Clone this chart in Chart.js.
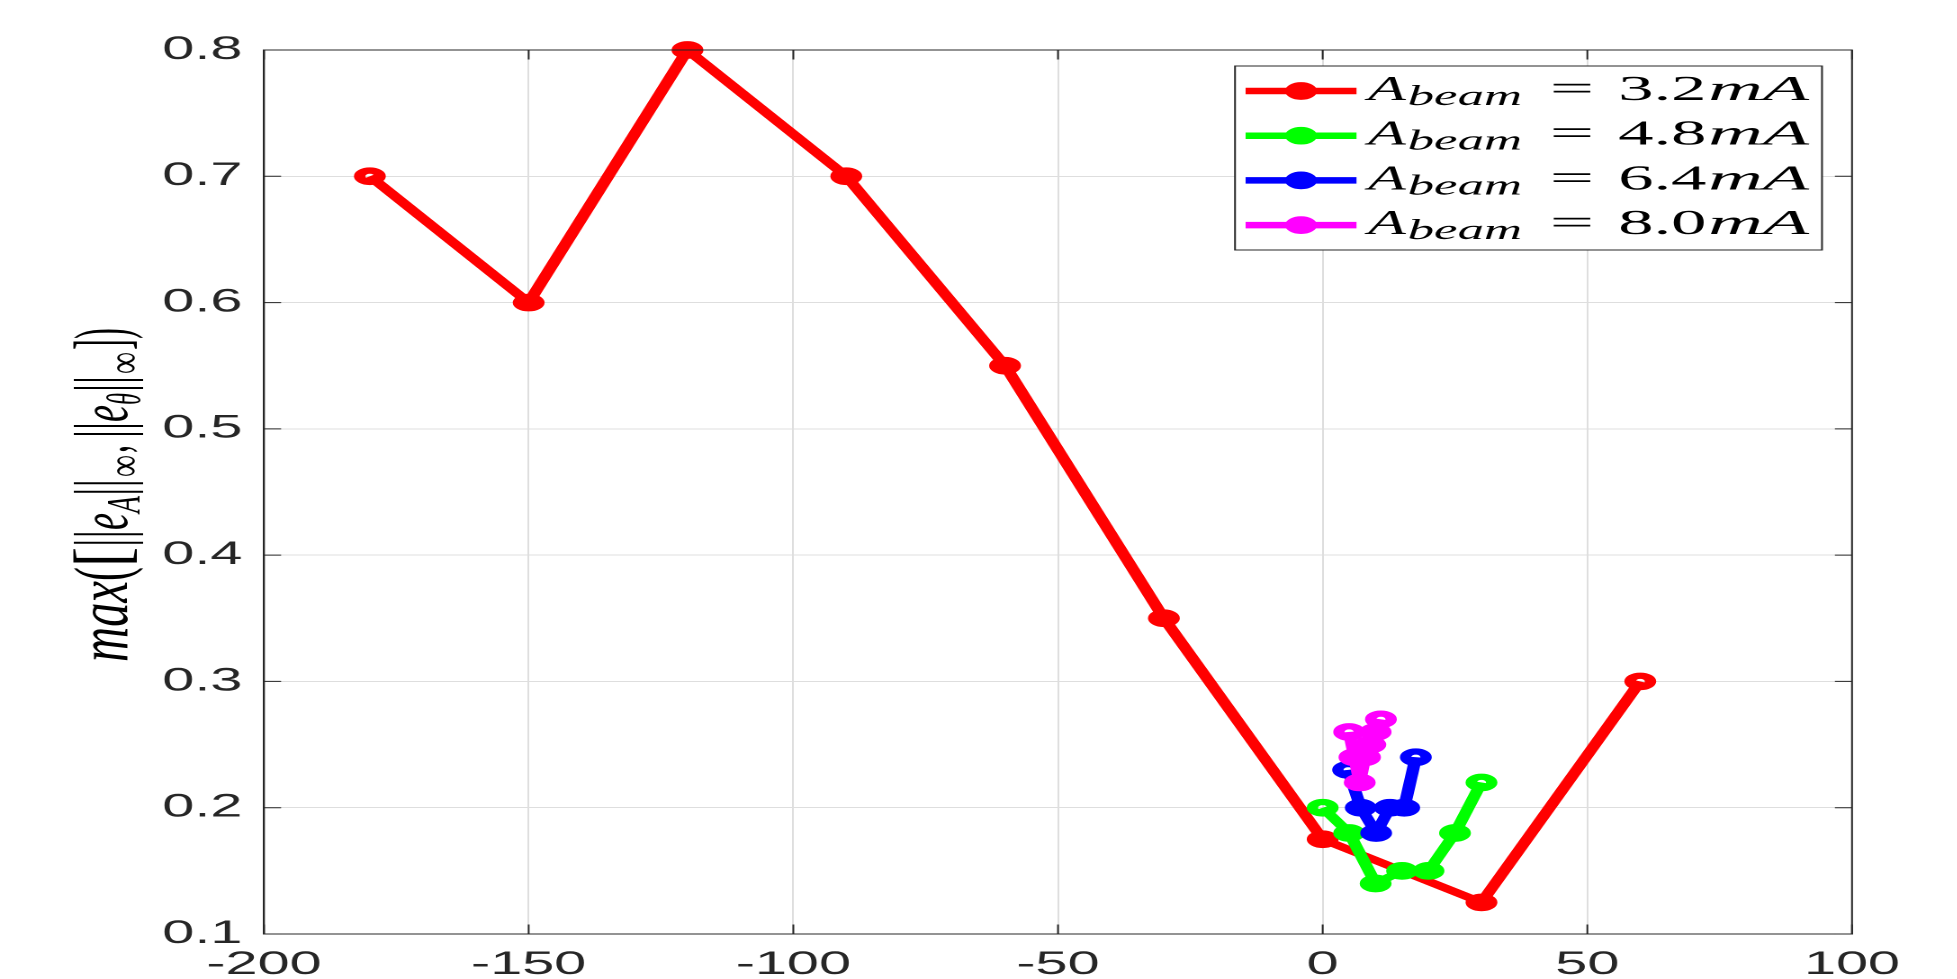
<!DOCTYPE html>
<html><head><meta charset="utf-8">
<script src="https://cdn.jsdelivr.net/npm/chart.js@4/dist/chart.umd.min.js"></script>
<style>
html,body{margin:0;padding:0;background:#fff;overflow:hidden;width:1957px;height:979px;}
#wrap{width:1088px;height:979px;transform:scaleX(1.8);transform-origin:0 0;}
canvas{display:block;}
</style></head><body>
<div id="wrap"><canvas id="c" width="1088" height="979"></canvas></div>
<script>
// ---- data ----
const xTicks = [-200, -150, -100, -50, 0, 50, 100];
const xTickLabels = ['-200', '-150', '-100', '-50', '0', '50', '100'];
const yTicks = [0.1, 0.2, 0.3, 0.4, 0.5, 0.6, 0.7, 0.8];
const yTickLabels = ['0.1', '0.2', '0.3', '0.4', '0.5', '0.6', '0.7', '0.8'];

const seriesNames = ['3.2mA', '4.8mA', '6.4mA', '8.0mA'];
const seriesValueText = ['3.2', '4.8', '6.4', '8.0'];

const redX = [-180, -150, -120, -90, -60, -30, 0, 30, 60];
const redY = [0.7, 0.6, 0.8, 0.7, 0.55, 0.35, 0.175, 0.125, 0.3];
const greenX = [0, 5, 10, 15, 20, 25, 30];
const greenY = [0.2, 0.18, 0.14, 0.15, 0.15, 0.18, 0.22];
const blueX = [4.8, 7.2, 10.1, 12.7, 15.4, 17.6];
const blueY = [0.23, 0.2, 0.18, 0.2, 0.2, 0.24];
const magentaX = [5, 6, 7, 8, 9, 10, 11];
const magentaY = [0.26, 0.24, 0.22, 0.24, 0.25, 0.26, 0.27];

// ---- styling / layout ----
const SX = 1.8;                 // horizontal stretch of the whole figure
const CW = 1088, CH = 979;
const AREA = { left: 264 / SX, right: 1852 / SX, top: 50, bottom: 934 };
const COLORS = ['#ff0000', '#00ff00', '#0000ff', '#ff00ff'];
const AXIS = '#262626';
const GRID = '#dedede';
const LINE_W = 7, LEG_LINE_W = 6.5, PT_R = 5.7, PT_BW = 6.3;

function pts(xs, ys) { return xs.map((x, i) => ({ x: x, y: ys[i] })); }
const seriesData = [pts(redX, redY), pts(greenX, greenY), pts(blueX, blueY), pts(magentaX, magentaY)];

const datasets = seriesData.map((d, i) => ({
  label: seriesNames[i],
  data: d,
  borderColor: COLORS[i],
  backgroundColor: COLORS[i],
  borderWidth: LINE_W,
  borderJoinStyle: 'round',
  tension: 0,
  pointStyle: 'circle',
  pointRadius: PT_R,
  pointBorderWidth: PT_BW,
  pointBackgroundColor: 'rgba(0,0,0,0)',
  pointBorderColor: COLORS[i],
  order: 4 - i,
  clip: false
}));

function fitText(ctx, text, font, x0, x1, baseline) {
  ctx.save();
  ctx.font = font;
  const w = ctx.measureText(text).width;
  ctx.translate(x0, baseline);
  ctx.scale((x1 - x0) / w, 1);
  ctx.textBaseline = 'alphabetic';
  ctx.textAlign = 'left';
  ctx.fillText(text, 0, 0);
  ctx.restore();
}

const SERIF = '"Liberation Serif", "DejaVu Serif", serif';
// y-axis title pieces: text, font, baseline offset, [bottom y, top y] on the page
const titlePieces = [
  ['max', 'italic 40px ' + SERIF, 0, 662, 581],
  ['(', '42px ' + SERIF, 0, 581, 567],
  ['[', '42px ' + SERIF, 0, 567, 547],
  ['||', '42px ' + SERIF, 0, 547, 530],
  ['e', 'italic 38px ' + SERIF, 0, 530, 513],
  ['A', 'italic 26px ' + SERIF, 7, 513, 496],
  ['||', '42px ' + SERIF, 0, 496, 479],
  ['\u221E', '26px ' + SERIF, 7, 477, 455],
  [',', '38px ' + SERIF, 0, 453, 445],
  ['||', '42px ' + SERIF, 0, 438, 422],
  ['e', 'italic 38px ' + SERIF, 0, 422, 405],
  ['\u03B8', 'italic 26px ' + SERIF, 7, 405, 393],
  ['||', '42px ' + SERIF, 0, 392, 376],
  ['\u221E', '26px ' + SERIF, 7, 374, 352],
  [']', '42px ' + SERIF, 0, 350, 339],
  [')', '42px ' + SERIF, 0, 339, 328]
];

const decor = {
  id: 'decor',
  afterDraw(chart) {
    const ctx = chart.ctx;
    const xs = chart.scales.x, ys = chart.scales.y;
    const L = chart.chartArea.left, R = chart.chartArea.right, T = chart.chartArea.top, B = chart.chartArea.bottom;
    ctx.save();
    // box
    ctx.strokeStyle = AXIS; ctx.lineWidth = 1;
    ctx.beginPath();
    ctx.moveTo(L, T); ctx.lineTo(R, T); ctx.lineTo(R, B); ctx.lineTo(L, B); ctx.closePath();
    ctx.stroke();
    // inward ticks
    const tl = 9.5;
    ctx.beginPath();
    xTicks.forEach(v => {
      const px = xs.getPixelForValue(v);
      ctx.moveTo(px, B); ctx.lineTo(px, B - tl);
      ctx.moveTo(px, T); ctx.lineTo(px, T + tl);
    });
    yTicks.forEach(v => {
      const py = ys.getPixelForValue(v);
      ctx.moveTo(L, py); ctx.lineTo(L + tl, py);
      ctx.moveTo(R, py); ctx.lineTo(R - tl, py);
    });
    ctx.stroke();

    // legend
    const bx0 = 1235 / SX, bx1 = 1822 / SX, by0 = 66, by1 = 250;
    ctx.fillStyle = '#fff';
    ctx.fillRect(bx0, by0, bx1 - bx0, by1 - by0);
    ctx.strokeStyle = AXIS; ctx.lineWidth = 1;
    ctx.strokeRect(bx0, by0, bx1 - bx0, by1 - by0);
    for (let i = 0; i < 4; i++) {
      const ry = by0 + 25 + i * 44.7;
      ctx.strokeStyle = COLORS[i];
      ctx.lineWidth = LEG_LINE_W;
      ctx.beginPath(); ctx.moveTo(692, ry); ctx.lineTo(753.6, ry); ctx.stroke();
      ctx.lineWidth = PT_BW;
      ctx.beginPath(); ctx.arc(722.8, ry, PT_R, 0, Math.PI * 2); ctx.stroke();
      ctx.fillStyle = '#000';
      fitText(ctx, 'A', 'italic 35px ' + SERIF, 760, 781, ry + 9);
      fitText(ctx, 'beam', 'italic 28px ' + SERIF, 782, 845.6, ry + 14);
      fitText(ctx, '=', '35px ' + SERIF, 861, 885.6, ry + 9);
      fitText(ctx, seriesValueText[i], '35px ' + SERIF, 899, 948, ry + 9);
      fitText(ctx, 'mA', 'italic 35px ' + SERIF, 949, 1005, ry + 9);
    }

    // y-axis title (rotated), with subscripts
    ctx.translate(70.4, 495);
    ctx.rotate(-Math.PI / 2);
    ctx.fillStyle = '#000';
    titlePieces.forEach(p => {
      fitText(ctx, p[0], p[1], 495 - p[3], 495 - p[4], p[2]);
    });
    ctx.restore();
  }
};

const tickFont = { family: '"Liberation Sans", Arial, sans-serif', size: 32 };

new Chart(document.getElementById('c'), {
  type: 'line',
  data: { datasets: datasets },
  options: {
    responsive: false,
    animation: false,
    devicePixelRatio: 2,
    layout: { padding: { left: 0, top: AREA.top, right: CW - AREA.right, bottom: 0 } },
    plugins: { legend: { display: false }, tooltip: { enabled: false } },
    scales: {
      x: {
        type: 'linear', min: -200, max: 100,
        afterBuildTicks: s => { s.ticks = xTicks.map(v => ({ value: v })); },
        afterFit: s => { s.height = CH - AREA.bottom; },
        ticks: { callback: (v, i) => xTickLabels[i], font: tickFont, color: AXIS, padding: 12, maxRotation: 0, autoSkip: false },
        grid: { color: GRID, lineWidth: 1, drawTicks: false },
        border: { display: true, color: AXIS, width: 1 }
      },
      y: {
        type: 'linear', min: 0.1, max: 0.8,
        afterBuildTicks: s => { s.ticks = yTicks.map(v => ({ value: v })); },
        afterFit: s => { s.width = AREA.left; },
        ticks: { callback: (v, i) => yTickLabels[i], font: tickFont, color: AXIS, padding: 12, autoSkip: false },
        grid: { color: GRID, lineWidth: 1, drawTicks: false },
        border: { display: true, color: AXIS, width: 1 }
      }
    }
  },
  plugins: [decor]
});
</script>
</body></html>
